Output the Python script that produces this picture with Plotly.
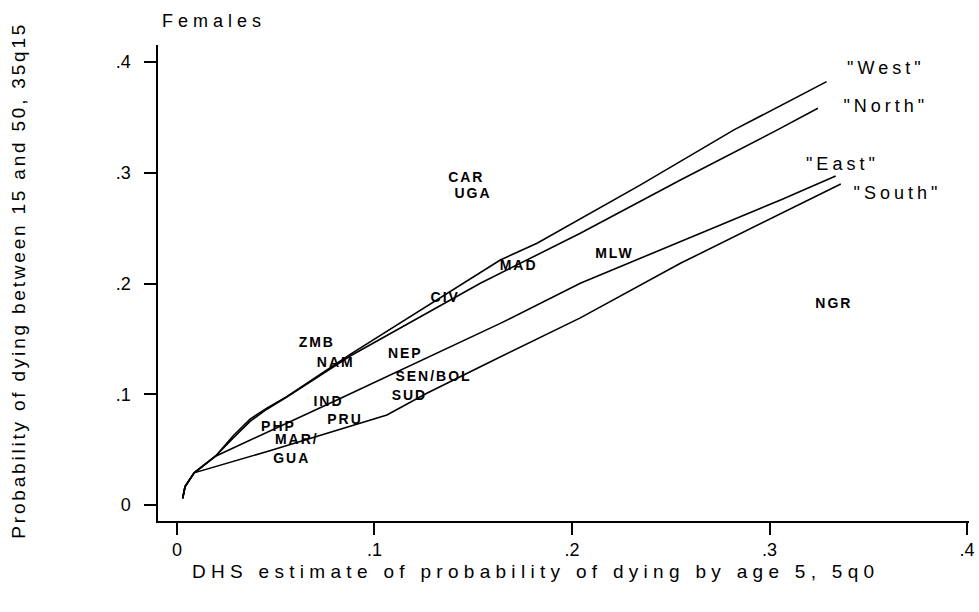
import plotly.graph_objects as go

# model life table curves (Coale-Demeny regions), females
x_west = [0.0029, 0.0041, 0.0087, 0.0195, 0.0285, 0.037, 0.0455, 0.0556, 0.0877, 0.1637, 0.1823, 0.2093, 0.2347, 0.282, 0.3289]
y_west = [0.006, 0.0166, 0.029, 0.044, 0.0625, 0.0775, 0.0875, 0.0978, 0.136, 0.2213, 0.2364, 0.2635, 0.2891, 0.3388, 0.3824]
x_north = [0.0029, 0.0041, 0.0087, 0.0195, 0.0285, 0.037, 0.0455, 0.0556, 0.0877, 0.1536, 0.2042, 0.2549, 0.304, 0.3245]
y_north = [0.006, 0.0166, 0.029, 0.044, 0.0605, 0.0755, 0.0865, 0.0975, 0.1345, 0.2003, 0.2454, 0.2936, 0.3388, 0.3583]
x_east = [0.0029, 0.0041, 0.0087, 0.0195, 0.081, 0.1637, 0.2042, 0.2363, 0.3056, 0.3335]
y_east = [0.006, 0.0166, 0.029, 0.044, 0.0949, 0.164, 0.2003, 0.2243, 0.2755, 0.2972]
x_south = [0.0029, 0.0041, 0.0087, 0.047, 0.1063, 0.1265, 0.1536, 0.2042, 0.2549, 0.3056, 0.3361]
y_south = [0.006, 0.0166, 0.029, 0.049, 0.0813, 0.1009, 0.1249, 0.169, 0.2183, 0.2635, 0.29]

model_names = ['"West"', '"North"', '"East"', '"South"']
model_x = [0.3589, 0.3589, 0.3369, 0.3648]
model_y = [0.3936, 0.3589, 0.3062, 0.2809]

countries = ["ZMB", "NAM", "CIV", "NEP", "SEN/BOL", "SUD", "IND", "PRU", "PHP", "MAR/", "GUA", "MAD", "MLW", "CAR", "UGA", "NGR"]
q5 = [0.0708, 0.0804, 0.1358, 0.1156, 0.1299, 0.1177, 0.0767, 0.0851, 0.0514, 0.0607, 0.0581, 0.173, 0.2215, 0.1465, 0.1499, 0.3326]
q35 = [0.1454, 0.128, 0.1867, 0.1361, 0.115, 0.0978, 0.0928, 0.0762, 0.0702, 0.0578, 0.0413, 0.2153, 0.2265, 0.2951, 0.2807, 0.1807]

tick_vals = [0, 0.1, 0.2, 0.3, 0.4]
tick_text = ["0", ".1", ".2", ".3", ".4"]

FONT = "Liberation Sans, Arial, sans-serif"

def spaced(s, px):
    return '<span style="letter-spacing:%spx">%s</span>' % (px, s)

fig = go.Figure()
for xs, ys in [(x_west, y_west), (x_north, y_north), (x_east, y_east), (x_south, y_south)]:
    fig.add_trace(go.Scatter(x=xs, y=ys, mode="lines", line=dict(color="black", width=1.6),
                             hoverinfo="skip", showlegend=False))

fig.add_trace(go.Scatter(x=q5, y=q35, mode="text", text=[spaced(c, 2) for c in countries],
                         textposition="middle center",
                         textfont=dict(family=FONT, size=14, color="black", weight="bold"),
                         showlegend=False))
fig.add_trace(go.Scatter(x=model_x, y=model_y, mode="text", text=[spaced(m, 4) for m in model_names],
                         textposition="middle center",
                         textfont=dict(family=FONT, size=18, color="black"),
                         showlegend=False))

fig.add_annotation(text=spaced("Females", 5), xref="paper", yref="paper", x=0.0025, y=1.051,
                   xanchor="left", yanchor="middle", showarrow=False,
                   font=dict(family=FONT, size=18, color="black"))
fig.add_annotation(text=spaced("DHS estimate of probability of dying by age 5, 5q0", 5.3),
                   xref="paper", yref="paper", x=0.466, y=-0.107,
                   xanchor="center", yanchor="middle", showarrow=False,
                   font=dict(family=FONT, size=19, color="black"))
fig.add_annotation(text=spaced("Probability of dying between 15 and 50, 35q15", 2.8),
                   xref="paper", yref="paper", x=-0.1714, y=0.507, textangle=-90,
                   xanchor="center", yanchor="middle", showarrow=False,
                   font=dict(family=FONT, size=19, color="black"))

fig.update_xaxes(range=[-0.0096, 0.401], tickvals=tick_vals, ticktext=tick_text, automargin=False,
                 showline=True, linecolor="black", linewidth=1.5, showgrid=False, zeroline=False,
                 ticks="outside", ticklen=12, tickwidth=1.5, tickcolor="black",
                 tickfont=dict(family=FONT, size=18, color="black"))
fig.update_yaxes(range=[-0.0145, 0.4155], tickvals=tick_vals, ticktext=tick_text, automargin=False,
                 showline=True, linecolor="black", linewidth=1.5, showgrid=False, zeroline=False,
                 ticks="outside", ticklen=12, tickwidth=1.5, tickcolor="black", ticklabelstandoff=10,
                 tickfont=dict(family=FONT, size=18, color="black"))
fig.update_layout(width=979, height=612, margin=dict(l=158, r=10, t=45, b=91),
                  plot_bgcolor="white", paper_bgcolor="white")
fig.write_html("out.html", config={"displayModeBar": False},
               post_script="document.body.style.margin='0';")
